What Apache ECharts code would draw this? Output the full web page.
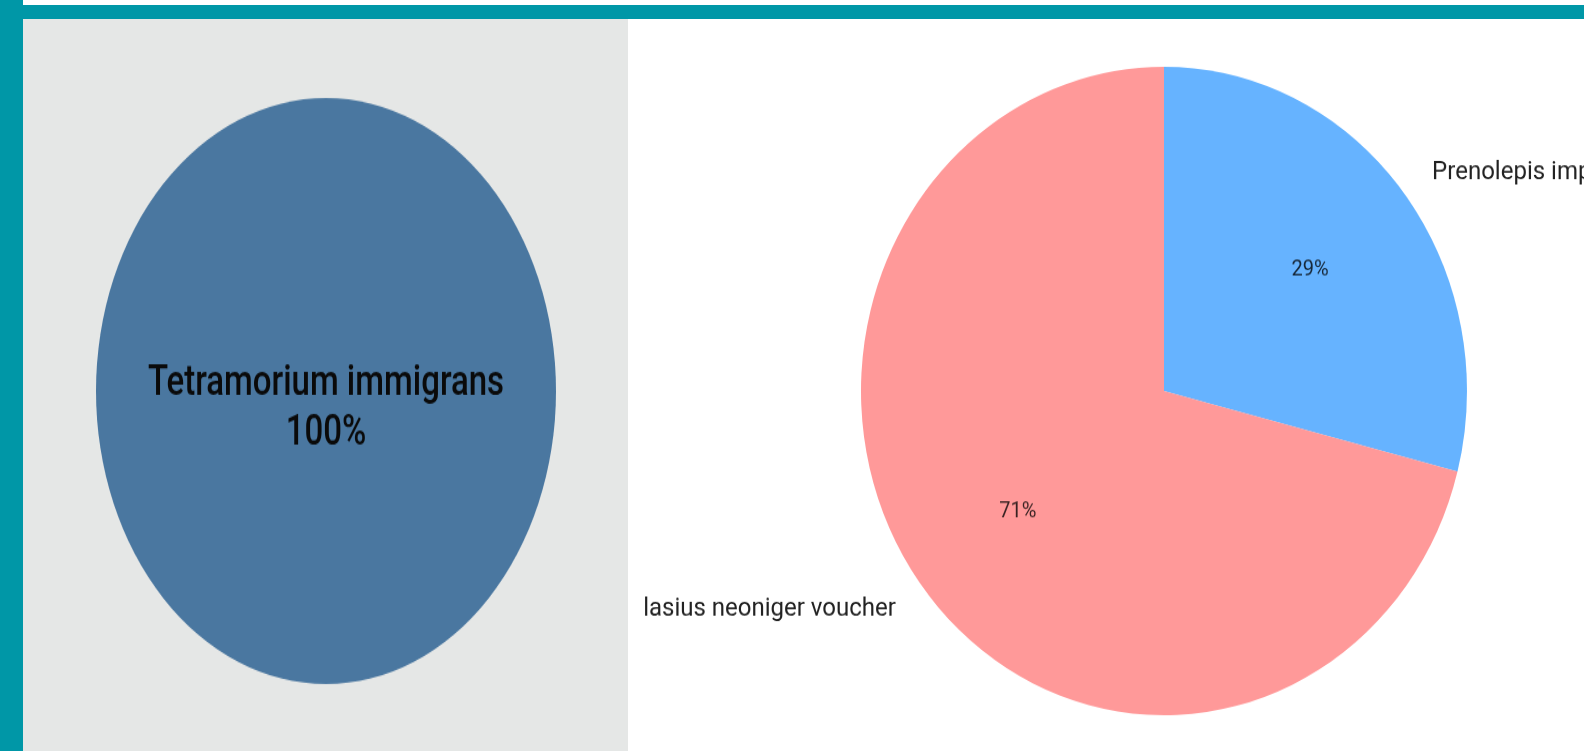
<!DOCTYPE html>
<html>
<head>
<meta charset="utf-8">
<script src="https://cdn.jsdelivr.net/npm/echarts@6/dist/echarts.min.js"></script>
<style>
  html, body { margin: 0; padding: 0; width: 1584px; height: 751px; overflow: hidden; background: #ffffff; }
  #tealTop { position: absolute; left: 0; top: 5px; width: 1584px; height: 14px; background: #0097a7; }
  #tealLeft { position: absolute; left: 0; top: 0; width: 23px; height: 751px; background: #0097a7; }
  #grayPanel { position: absolute; left: 23px; top: 19px; width: 605px; height: 732px; background: #e5e7e6; }
  .chart { position: absolute; left: 0; top: 0; width: 1584px; height: 751px; transform-origin: 0 391px; }
  #left { transform: scaleY(1.274); }
  #right { transform: scaleY(1.07); }
</style>
</head>
<body>
<div id="tealTop"></div>
<div id="tealLeft"></div>
<div id="grayPanel"></div>
<div id="left" class="chart"></div>
<div id="right" class="chart"></div>
<script>
// ---- data ----
const leftCategories = ['Tetramorium immigrans'];
const leftValues = [100];
const rightCategories = ['Prenolepis imparis', 'lasius neoniger voucher'];
const rightValues = [29, 71];

const leftColors = ['#4a77a0'];
const rightColors = ['#66b3ff', '#ff9999'];
const FONT = 'Roboto, "Open Sans", sans-serif';

const leftData = leftCategories.map((n, i) => ({ name: n, value: leftValues[i] }));
const rightData = rightCategories.map((n, i) => ({ name: n, value: rightValues[i] }));

const leftChart = echarts.init(document.getElementById('left'), null, { renderer: 'canvas' });
leftChart.setOption({
  animation: false,
  series: [{
    type: 'pie',
    center: [326, 391],
    radius: 230,
    startAngle: 90,
    silent: true,
    data: leftData,
    color: leftColors,
    itemStyle: { borderWidth: 0 },
    label: {
      show: true,
      position: 'center',
      formatter: p => p.name + '\n' + Math.round(p.percent) + '%',
      fontFamily: FONT,
      fontSize: 33,
      fontWeight: 500,
      lineHeight: 39,
      color: '#0a0a0a',
      offset: [0, 14]
    },
    labelLine: { show: false }
  }]
});

const rightChart = echarts.init(document.getElementById('right'), null, { renderer: 'canvas' });
rightChart.setOption({
  animation: false,
  series: [
    {
      type: 'pie',
      center: [1164, 391],
      radius: 303,
      startAngle: 90,
      clockwise: true,
      silent: true,
      data: rightData,
      color: rightColors,
      itemStyle: { borderWidth: 0 },
      avoidLabelOverlap: false,
      label: {
        show: true,
        position: 'outside',
        formatter: p => p.name,
        fontFamily: FONT,
        fontSize: 24,
        color: '#222222'
      },
      labelLine: { show: false, length: 30, length2: 0 }
    },
    {
      type: 'pie',
      center: [1164, 391],
      radius: [61, 303],
      startAngle: 90,
      clockwise: true,
      silent: true,
      data: rightData,
      itemStyle: { color: 'rgba(0,0,0,0)', borderWidth: 0 },
      label: {
        show: true,
        position: 'inside',
        formatter: p => Math.round(p.percent) + '%',
        fontFamily: FONT,
        fontSize: 20,
        color: 'rgba(0,0,0,0.78)'
      },
      labelLine: { show: false }
    }
  ]
});
</script>
</body>
</html>
